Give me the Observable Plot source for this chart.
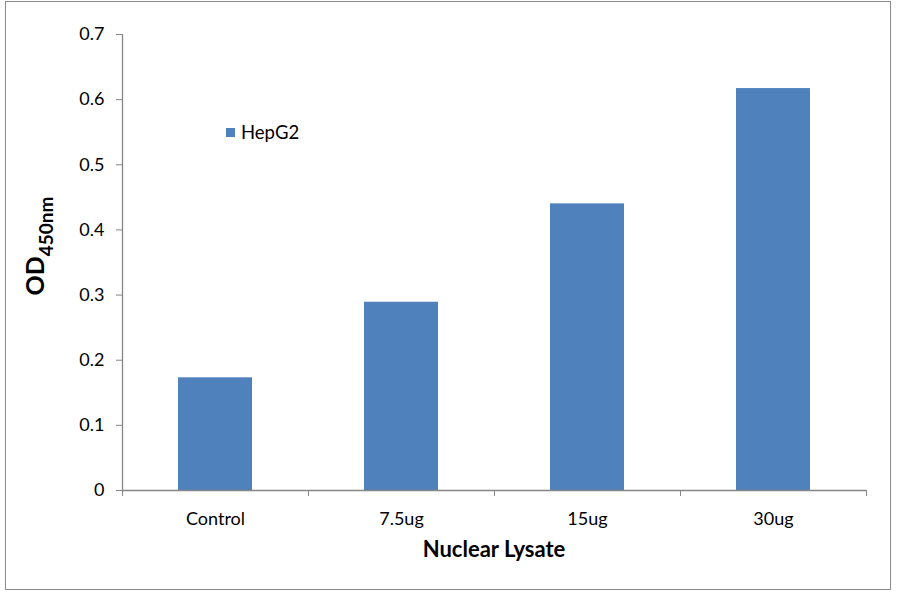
<!DOCTYPE html>
<html><head><meta charset="utf-8">
<script src="https://cdn.jsdelivr.net/npm/d3@7"></script>
<script src="https://cdn.jsdelivr.net/npm/@observablehq/plot@0.6"></script>
<style>
html,body{margin:0;padding:0;background:#fff;}
#wrap{position:relative;width:900px;height:594px;font-family:Lato,"Open Sans",sans-serif;}
#frame{position:absolute;left:5px;top:1px;width:886px;height:589px;border:1.5px solid #8c8c8c;box-sizing:border-box;pointer-events:none;}
#legend{position:absolute;left:226px;top:121px;font-size:18.5px;color:#000;display:flex;align-items:center;}
#legend span.sw{display:inline-block;width:9px;height:9px;background:#4F81BD;margin-right:6px;}
</style></head>
<body><div id="wrap"><div id="frame"></div><div id="legend"><span class="sw"></span>HepG2</div></div>
<script>
const categories = ["Control", "7.5ug", "15ug", "30ug"];
const values = [0.173, 0.289, 0.440, 0.617];
const yTicks = [0, 0.1, 0.2, 0.3, 0.4, 0.5, 0.6, 0.7];
const seriesName = "HepG2";
const xTitle = "Nuclear Lysate";

const data = categories.map((c, i) => ({cat: c, v: values[i]}));
const axisColor = "#868686";
const step = (900 - 122 - 34) / categories.length;
const font = "Lato, 'Open Sans', sans-serif";

const chart = Plot.plot({
  width: 900, height: 594,
  marginLeft: 122, marginRight: 34, marginTop: 34, marginBottom: 104,
  style: {fontFamily: font, fontSize: "18px", background: "transparent", color: "#000"},
  x: {domain: categories, paddingInner: 0.6, paddingOuter: 0.3},
  y: {domain: [0, 0.7]},
  marks: [
    Plot.barY(data, {x: "cat", y: "v", fill: "#4F81BD"}),
    Plot.ruleY([0], {stroke: axisColor, strokeWidth: 1.3}),
    Plot.axisY({ticks: yTicks, tickSize: 6, tickPadding: 12, stroke: axisColor, fontSize: 18, label: null, tickFormat: d => String(+d.toFixed(1))}),
    Plot.axisX({tickSize: 0, tickPadding: 22, fontSize: 18, label: null}),
    // band boundary ticks
    Plot.ruleX(categories, {x: d => d, y1: 0, y2: 0, dx: -step / 2, stroke: axisColor, insetBottom: -6}),
    Plot.ruleX([categories[categories.length - 1]], {x: d => d, y1: 0, y2: 0, dx: step / 2, stroke: axisColor, insetBottom: -6}),
    // y axis line
    Plot.ruleX([categories[0]], {x: d => d, y1: 0, y2: 0.7, dx: -step / 2, stroke: axisColor, strokeWidth: 1.3})
  ]
});
document.getElementById("wrap").appendChild(chart);

const svg = d3.select(chart);
svg.append("text")
  .attr("x", 494).attr("y", 557)
  .attr("text-anchor", "middle")
  .attr("font-size", 22).attr("font-weight", "bold")
  .attr("font-family", font)
  .text(xTitle);
const yl = svg.append("text")
  .attr("transform", "translate(44,246) rotate(-90)")
  .attr("text-anchor", "middle")
  .attr("font-weight", "bold")
  .attr("font-family", font);
yl.append("tspan").attr("font-size", 25).text("OD");
yl.append("tspan").attr("font-size", 19).attr("dy", 9).text("450nm");
</script>
</body></html>
